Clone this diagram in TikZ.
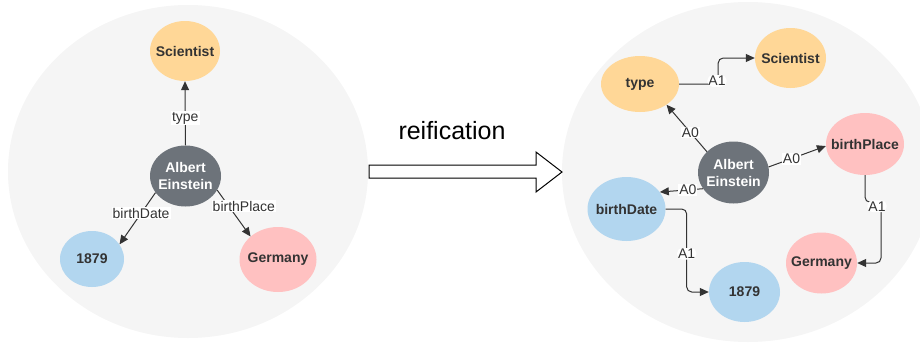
\documentclass[tikz,border=0pt]{standalone}
\usepackage{fontspec}
\setmainfont{Liberation Sans}
\usetikzlibrary{shapes.geometric,arrows.meta}
\definecolor{bggray}{HTML}{F5F5F5}
\definecolor{corange}{HTML}{FFD797}
\definecolor{cblue}{HTML}{B2D6EF}
\definecolor{cpink}{HTML}{FFC1C1}
\definecolor{cgray}{HTML}{6D737A}
\definecolor{ink}{HTML}{333333}
\tikzset{
  enttext/.style={text=ink, font=\fontsize{14}{17}\selectfont\bfseries, align=center, inner sep=0pt},
  ent/.style={ellipse, inner sep=0pt},
  orangenode/.style={ent, fill=corange},
  bluenode/.style={ent, fill=cblue},
  pinknode/.style={ent, fill=cpink},
  graynode/.style={ent, fill=cgray},
  arr/.style={draw=ink, line width=1pt, -{Triangle[length=9pt,width=8pt]}},
  lbl/.style={fill=white, inner sep=1pt, text=ink, font=\fontsize{14}{16}\selectfont},
}
\begin{document}
\begin{tikzpicture}[x=1pt,y=-1pt]
\useasboundingbox (0,0) rectangle (920,346);
\clip (0,0) rectangle (920,346);
% background circles
\fill[bggray] (188,171.5) ellipse [x radius=180, y radius=166.5];
\fill[bggray] (748,172) ellipse [x radius=186, y radius=170];

% left graph
\node[orangenode, minimum width=70pt, minimum height=60pt, label={[enttext]center:Scientist}] (sci) at (185,51) {};
\node[graynode, minimum width=71pt, minimum height=61pt, label={[enttext, text=white]center:Albert\\Einstein}] (ae) at (185.5,176) {};
\node[bluenode, minimum width=64pt, minimum height=56pt, label={[enttext]center:1879}] (dl) at (92,259) {};
\node[pinknode, minimum width=77pt, minimum height=65pt, label={[enttext]center:Germany}] (gl) at (278,259.5) {};

\draw[arr] (ae.north) -- node[lbl, pos=0.42] {type} (sci.south);
\draw[arr] (ae.209) -- node[lbl, pos=0.4] {birthDate} (dl.28);
\draw[arr] (ae.336) -- node[lbl, pos=0.35, xshift=15pt] {birthPlace} (gl.140);

% reification arrow
\node[font=\fontsize{25}{28}\selectfont, text=black] (reif) at (452,131) {reification};
\draw[line width=1pt, fill=white] (369,165) -- (536,165) -- (536,152) -- (562,172) -- (536,192) -- (536,178) -- (369,178) -- cycle;

% right graph
\node[orangenode, minimum width=78pt, minimum height=56pt, label={[enttext]center:type}] (ty) at (640,84) {};
\node[orangenode, minimum width=71pt, minimum height=60pt, label={[enttext]center:Scientist}] (sci2) at (790.5,58) {};
\node[pinknode, minimum width=78pt, minimum height=62pt, label={[enttext]center:birthPlace}] (bp) at (865,144) {};
\node[graynode, minimum width=71pt, minimum height=62pt, label={[enttext, text=white]center:Albert\\Einstein}] (ae2) at (733.5,172.5) {};
\node[bluenode, minimum width=78pt, minimum height=64pt, label={[enttext]center:birthDate}] (bd) at (626.5,209) {};
\node[pinknode, minimum width=71pt, minimum height=61pt, label={[enttext]center:Germany}] (gr) at (821.5,263) {};
\node[bluenode, minimum width=71pt, minimum height=60pt, label={[enttext]center:1879}] (dr) at (744.5,292) {};

\draw[arr] (ae2.142) -- node[lbl, pos=0.41] {A0} (ty.322);
\draw[arr] (ae2.9) -- node[lbl, pos=0.4] {A0} (bp.183);
\draw[arr] (ae2.208) -- node[lbl, pos=0.35] {A0} (bd.27);

\draw[arr, rounded corners=5pt] (ty.east) -- node[lbl, pos=0.97, yshift=3pt] {A1} ++(39,0) |- (sci2.west);
\draw[arr, rounded corners=5pt] (bd.east) -- ++(21,0) |- node[lbl, pos=0.27] {A1} (dr.west);
\draw[arr, rounded corners=5pt] (bp.south) -- ++(0,27) -- node[lbl, pos=0.75, yshift=-4pt] {A1} ++(16,0) |- (gr.east);
\end{tikzpicture}
\end{document}
